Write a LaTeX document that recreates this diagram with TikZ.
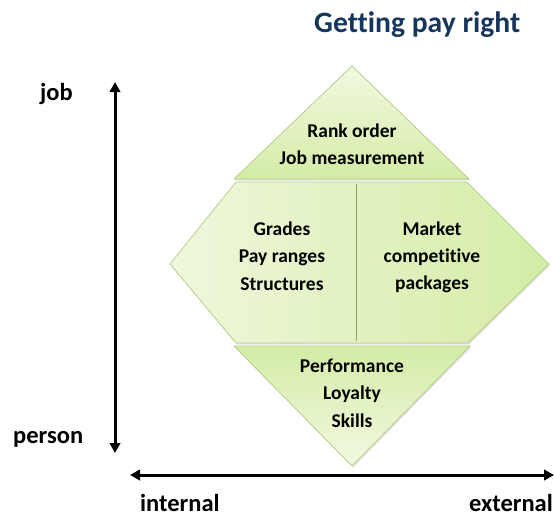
\documentclass[tikz,border=0pt]{standalone}
\usepackage{fontspec}
\setmainfont{Carlito}[Ligatures=NoCommon]
\usetikzlibrary{arrows.meta,shadows}
\definecolor{titleblue}{RGB}{23,54,93}
\definecolor{palegreen}{RGB}{242,249,226}
\definecolor{midgreen}{RGB}{212,236,166}
\definecolor{edgegreen}{RGB}{176,204,128}
\tikzset{
  piece/.style={draw=edgegreen, line width=0.7pt, line join=miter,
    drop shadow={opacity=0.22, shadow xshift=1.2pt, shadow yshift=-1.5pt}},
  bodytext/.style={align=center, font=\bfseries\fontsize{19.5}{27.3}\selectfont, inner sep=0pt},
  axislabel/.style={font=\bfseries\fontsize{24.5}{28}\selectfont, inner sep=0pt},
  axis/.style={line width=3pt, {Triangle[length=10pt,width=10.5pt]}-{Triangle[length=10pt,width=10.5pt]}}
}
\begin{document}
\begin{tikzpicture}[x=1pt,y=-1pt]
\useasboundingbox (0,0) rectangle (554,517);
% pieces of the diamond
\path[piece, top color=palegreen, bottom color=midgreen]
  (352,66) -- (469,179) -- (234,179) -- cycle;
\path[piece, left color=palegreen!90!midgreen, right color=midgreen]
  (236,182) -- (467,182) -- (549,264) -- (468,343) -- (236,343) -- (170,264) -- cycle;
\path[piece, top color=midgreen, bottom color=palegreen]
  (234,346) -- (470,346) -- (352,466) -- cycle;
% divider
\coordinate (dtop) at (356,184);
\coordinate (dbot) at (356,341);
\draw[draw=edgegreen!80!black, line width=0.6pt] (dtop) -- (dbot);
% texts
\node[bodytext] (rank) at (352,144) {Rank order\\Job measurement};
\node[bodytext] (grades) at (282,256) {Grades\\Pay ranges\\Structures};
\node[bodytext] (market) at (432,257.5) {Market\\competitive\\packages};
\node[bodytext] (perf) at (352,393) {Performance\\Loyalty\\Skills};
% title
\node[anchor=base west, inner sep=0pt, text=titleblue, font=\bfseries\fontsize{29.6}{32}\selectfont] (title) at (314,32) {Getting pay right};
% axes
\coordinate (vtop) at (115,82);
\coordinate (vbot) at (115,453);
\coordinate (hleft) at (130,475);
\coordinate (hright) at (554,475);
\draw[axis] (vtop) -- (vbot);
\draw[axis] (hleft) -- (hright);
\node[axislabel, anchor=base west] (job) at (40,100) {job};
\node[axislabel, anchor=base west] (person) at (13,443) {person};
\node[axislabel, anchor=base west] (internal) at (140,511) {internal};
\node[axislabel, anchor=base east] (external) at (553,511) {external};
\end{tikzpicture}
\end{document}
